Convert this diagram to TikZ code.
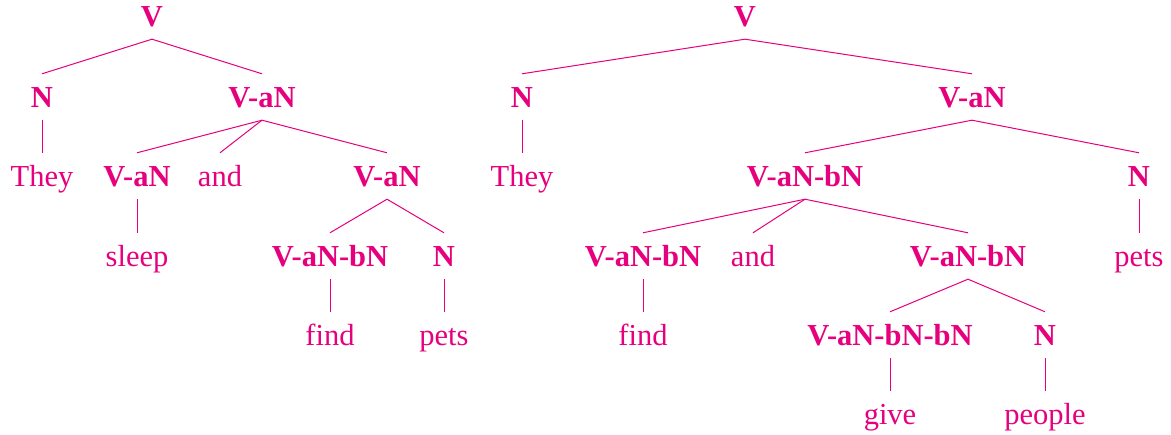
\documentclass[tikz,border=0pt]{standalone}
\usepackage{fontspec}
\setmainfont{Liberation Serif}
\definecolor{tpink}{RGB}{230,0,126}
\begin{document}
\begin{tikzpicture}[x=1bp,y=-1bp,
  every node/.style={anchor=base,inner sep=0pt,text height=34bp,text depth=12bp,
    text=tpink,font=\fontsize{30.5bp}{36bp}\selectfont},
  cat/.style={font=\fontsize{30.5bp}{36bp}\selectfont\bfseries},
  wd/.style={},
  br/.style={draw=tpink,line width=1bp}]
\useasboundingbox (0,0) rectangle (1171,435);
% left tree
\node[cat] (L) at (152,27) {V};
\node[cat] (LN) at (42,108) {N};
\node[cat] (LVa) at (262,108) {V-aN};
\node[wd] (Lthey) at (42,187) {They};
\node[cat] (LVa1) at (137,187) {V-aN};
\node[wd] (Land) at (220,187) {and};
\node[cat] (LVa2) at (387,187) {V-aN};
\node[wd] (Lsleep) at (137,267) {sleep};
\node[cat] (LVab) at (330,267) {V-aN-bN};
\node[cat] (LN2) at (444,267) {N};
\node[wd] (Lfind) at (330,346) {find};
\node[wd] (Lpets) at (444,346) {pets};
\draw[br] (LN.north) -- (L.south) -- (LVa.north);
\draw[br] (LN.south) -- (Lthey.north);
\draw[br] (LVa.south) -- (LVa1.north);
\draw[br] (LVa.south) -- (Land.north);
\draw[br] (LVa.south) -- (LVa2.north);
\draw[br] (LVa1.south) -- (Lsleep.north);
\draw[br] (LVab.north) -- (LVa2.south) -- (LN2.north);
\draw[br] (LVab.south) -- (Lfind.north);
\draw[br] (LN2.south) -- (Lpets.north);
% right tree
\node[cat] (R) at (745,27) {V};
\node[cat] (RN) at (522,108) {N};
\node[cat] (RVa) at (972,108) {V-aN};
\node[wd] (Rthey) at (522,187) {They};
\node[cat] (RVab) at (805,187) {V-aN-bN};
\node[cat] (RN2) at (1139,187) {N};
\node[cat] (RVab1) at (643,267) {V-aN-bN};
\node[wd] (Rand) at (753,267) {and};
\node[cat] (RVab2) at (968,267) {V-aN-bN};
\node[wd] (Rpets) at (1139,267) {pets};
\node[wd] (Rfind) at (643,346) {find};
\node[cat] (RVabb) at (890,346) {V-aN-bN-bN};
\node[cat] (RN3) at (1045,346) {N};
\node[wd] (Rgive) at (890,425) {give};
\node[wd] (Rpeople) at (1045,425) {people};
\draw[br] (RN.north) -- (R.south) -- (RVa.north);
\draw[br] (RN.south) -- (Rthey.north);
\draw[br] (RVab.north) -- (RVa.south) -- (RN2.north);
\draw[br] (RVab.south) -- (RVab1.north);
\draw[br] (RVab.south) -- (Rand.north);
\draw[br] (RVab.south) -- (RVab2.north);
\draw[br] (RN2.south) -- (Rpets.north);
\draw[br] (RVab1.south) -- (Rfind.north);
\draw[br] (RVabb.north) -- (RVab2.south) -- (RN3.north);
\draw[br] (RVabb.south) -- (Rgive.north);
\draw[br] (RN3.south) -- (Rpeople.north);
\end{tikzpicture}
\end{document}
